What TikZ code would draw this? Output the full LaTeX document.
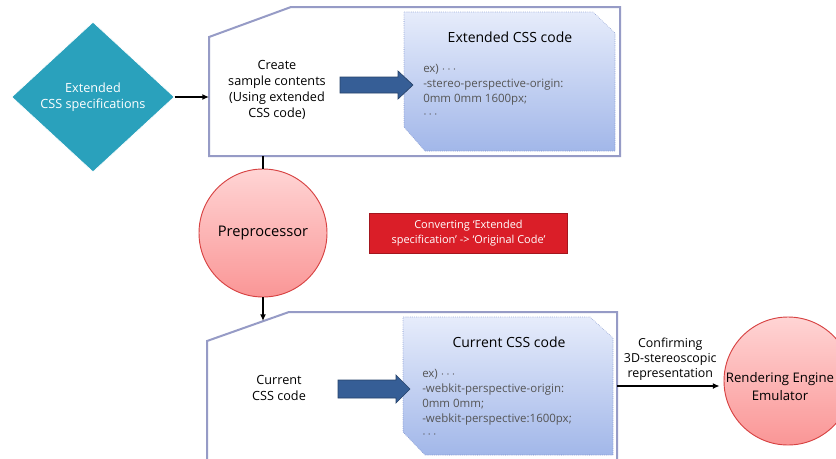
\documentclass[tikz,border=0pt]{standalone}
\usepackage{fontspec}
\setmainfont{Open Sans}
\usetikzlibrary{shapes.geometric,arrows.meta}
\definecolor{teal}{RGB}{42,161,188}
\definecolor{frameblue}{RGB}{150,155,198}
\definecolor{codetop}{RGB}{230,236,251}
\definecolor{codebottom}{RGB}{162,183,233}
\definecolor{codeline}{RGB}{120,140,200}
\definecolor{blockblue}{RGB}{54,94,150}
\definecolor{pinktop}{RGB}{255,212,212}
\definecolor{pinkbottom}{RGB}{250,150,150}
\definecolor{pinkline}{RGB}{215,66,66}
\definecolor{alertred}{RGB}{218,30,40}
\definecolor{codegray}{RGB}{85,85,85}

\tikzset{
	frame/.style={draw=frameblue, line width=1.5pt, fill=white},
	codebox/.style={top color=codetop, bottom color=codebottom, draw=codeline, densely dotted, line width=0.4pt},
	blockarrow/.style={fill=blockblue, draw=blockblue!70!black, line width=0.5pt},
	pinkball/.style={circle, top color=pinktop, bottom color=pinkbottom, draw=pinkline, line width=0.7pt, minimum size=96pt, inner sep=0pt, align=center, font=\fontsize{11}{13}\selectfont},
	label/.style={align=center, inner sep=0.75pt, font=\fontsize{9.5}{12}\selectfont},
	title/.style={inner sep=0.75pt, font=\fontsize{10.5}{12}\selectfont},
	code/.style={anchor=north west, align=left, inner sep=0.75pt, text=codegray, font=\fontsize{8.6}{11.25}\selectfont},
	flow/.style={-{Latex[length=5pt,width=4.5pt]}, line width=1.1pt}
}

\begin{document}
\begin{tikzpicture}[x=0.75pt,y=0.75pt,yscale=-1,xscale=1]
	\useasboundingbox (0,0) rectangle (836,458);
	\clip (0,0) rectangle (836,458);
	
	%Shape: Diamond [id:spec]
	\node [diamond, fill=teal, draw=white, line width=0.5pt, minimum width=122pt, minimum height=112.5pt, inner sep=0pt, text=white, align=center, font=\fontsize{9.5}{12}\selectfont] (spec) at (93,97) {Extended\\CSS specifications};
	
	%Shape: Frame [id:topframe]
	\draw [frame] (209,37) -- (291,7) -- (620,7) -- (620,156) -- (209,156) -- cycle ;
	\coordinate (topL) at (209,97);
	\coordinate (topB) at (263,156);
	%Shape: Code box [id:extcode]
	\shadedraw [codebox] (404,12) -- (593,12) -- (615,33) -- (615,151) -- (425,151) -- (404,127) -- cycle ;
	% Text Node
	\node [title] (exttitle) at (510,37) {Extended CSS code};
	% Text Node
	\node [code] (extbody) at (422,63) {ex) $\cdots$\\-stereo-perspective-origin:\\0mm 0mm 1600px;\\$\cdots$};
	% Text Node
	\node [label] (create) at (277,90) {Create\\sample contents\\(Using extended\\CSS code)};
	%Shape: Right Arrow [id:toparrow]
	\draw [blockarrow] (340,77) -- (398,77) -- (398,71) -- (413,85) -- (398,99) -- (398,93) -- (340,93) -- cycle ;
	
	%Shape: Circle [id:prep]
	\node [pinkball] (prep) at (263,233) {Preprocessor};
	
	% Text Node
	\node [fill=alertred, draw=alertred!75!black, line width=0.6pt, minimum width=149pt, minimum height=30pt, text=white, align=center, inner sep=1pt, font=\fontsize{8.2}{11}\selectfont] (convert) at (468.5,233) {Converting ‘Extended\\specification’ -> ‘Original Code’};
	
	%Shape: Frame [id:lowframe]
	\draw [frame] (207,341) -- (289,312) -- (617,312) -- (617,470) -- (207,470) -- cycle ;
	\coordinate (lowT) at (263,321);
	\coordinate (lowR) at (617,386);
	%Shape: Code box [id:curcode]
	\shadedraw [codebox] (403,317) -- (590,317) -- (613,338) -- (613,455) -- (425,455) -- (403,432) -- cycle ;
	% Text Node
	\node [title] (curtitle) at (509,342) {Current CSS code};
	% Text Node
	\node [code] (curbody) at (421,368) {ex) $\cdots$\\-webkit-perspective-origin:\\0mm 0mm;\\-webkit-perspective:1600px;\\$\cdots$};
	% Text Node
	\node [label] (current) at (279,388) {Current\\CSS code};
	%Shape: Right Arrow [id:lowarrow]
	\draw [blockarrow] (338,380) -- (396,380) -- (396,375) -- (410,389) -- (396,403) -- (396,398) -- (338,398) -- cycle ;
	
	%Shape: Circle [id:render]
	\node [pinkball] (render) at (788,381) {};
	% Text Node
	\node [label, font=\fontsize{9.9}{13.5}\selectfont] (rendertext) at (780,387) {Rendering Engine\\Emulator};
	
	%Straight Lines
	\draw [flow] (spec.east) -- (topL) ;
	\draw [line width=1.1pt] (topB) -- (prep.north) ;
	\draw [flow] (prep.south) -- (lowT) ;
	\draw [flow, shorten >=3pt] (lowR) -- (lowR -| render.west) node [midway, above=3pt, label, font=\fontsize{9.3}{11}\selectfont] (confirm) {Confirming\\3D-stereoscopic\\representation};
	
\end{tikzpicture}
\end{document}
